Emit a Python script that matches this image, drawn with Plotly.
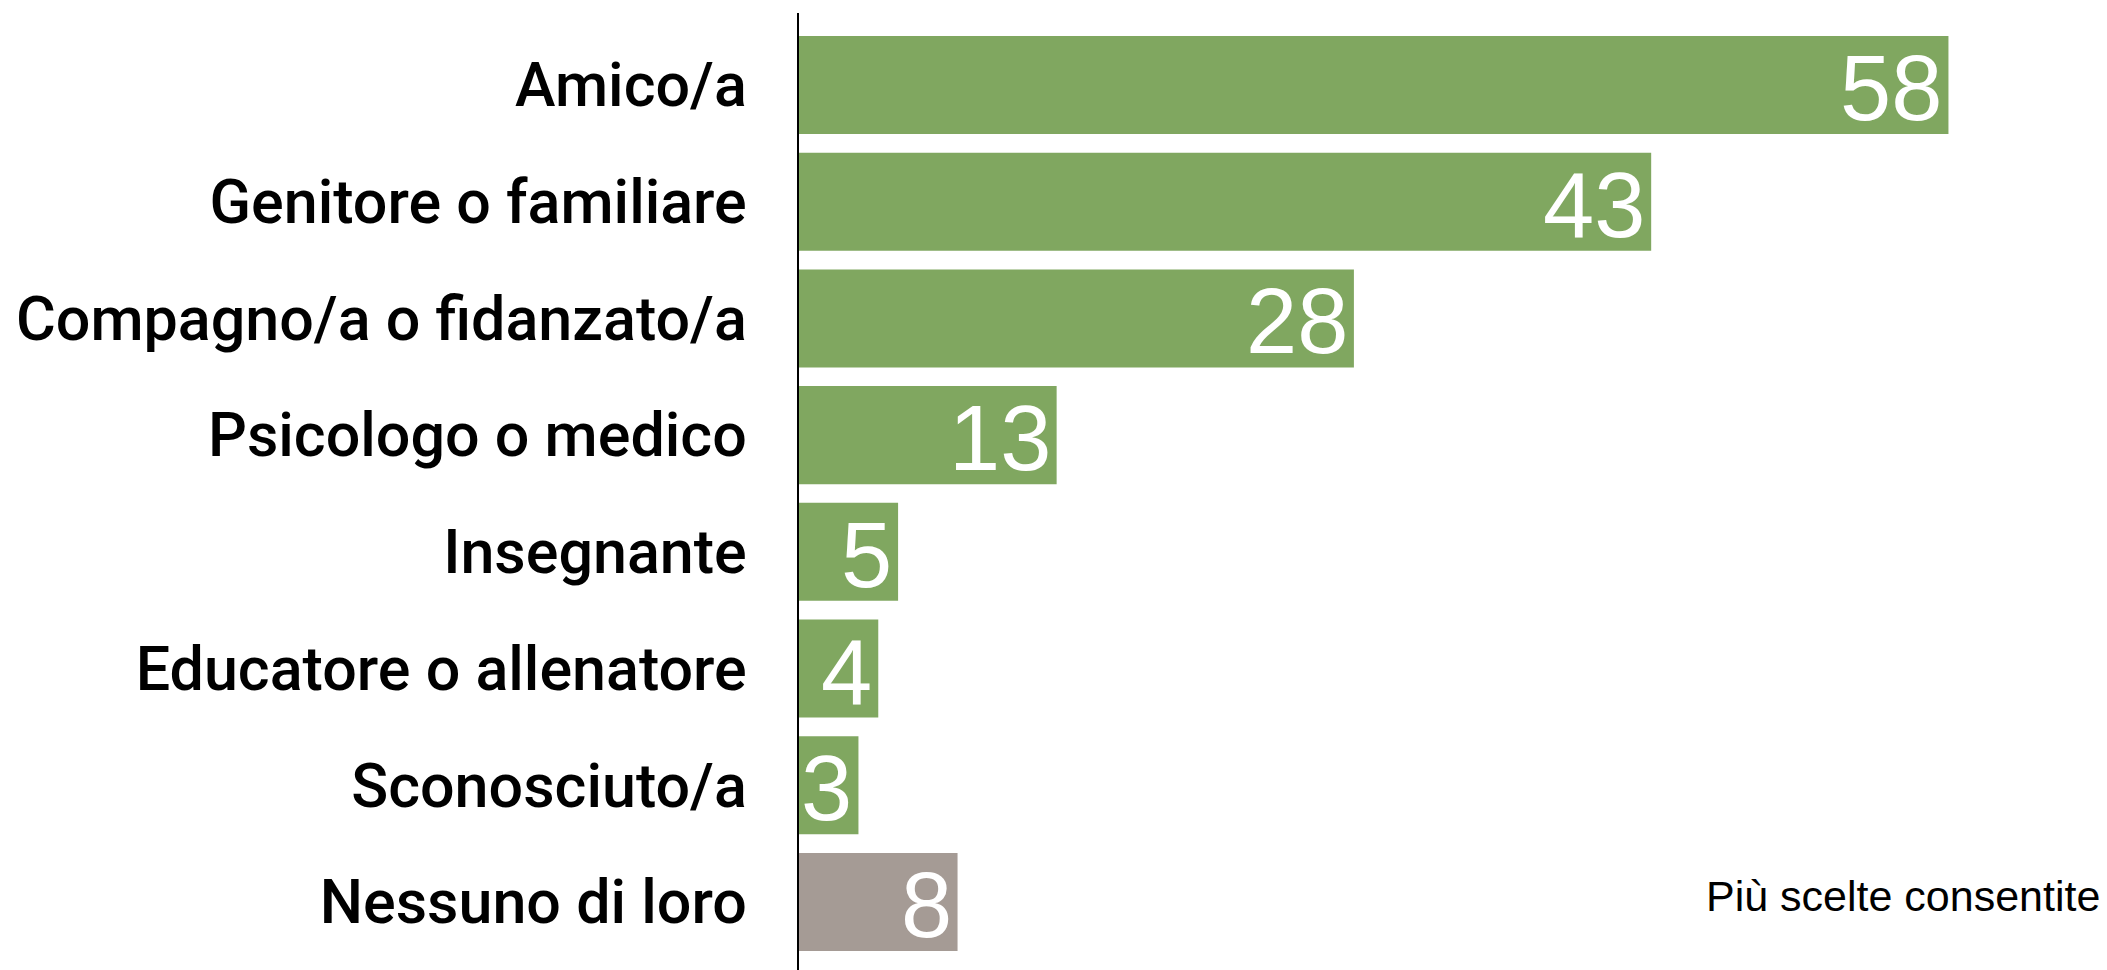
import plotly.graph_objects as go

categories = ["Amico/a", "Genitore o familiare", "Compagno/a o fidanzato/a",
              "Psicologo o medico", "Insegnante", "Educatore o allenatore",
              "Sconosciuto/a", "Nessuno di loro"]
values = [58, 43, 28, 13, 5, 4, 3, 8]
bar_colors = ["#80A760"] * 7 + ["#A59B95"]
note = "Più scelte consentite"

fig = go.Figure()
fig.add_trace(go.Bar(
    x=values, y=categories, orientation="h",
    marker=dict(color=bar_colors, line=dict(width=0)),
    hoverinfo="skip",
))

for c, v in zip(categories, values):
    fig.add_annotation(x=v, y=c, xref="x", yref="y", text=str(v),
                       showarrow=False, xanchor="right", yanchor="middle",
                       xshift=-4, yshift=-3,
                       font=dict(family="Liberation Sans, Arial, sans-serif",
                                 size=92, color="white"))

fig.add_annotation(x=1, y=0.075, xref="paper", yref="paper", text=note,
                   showarrow=False, xanchor="right", yanchor="middle",
                   xshift=-5, yshift=2,
                   font=dict(family="Liberation Sans, Arial, sans-serif",
                             size=43, color="black"))

fig.update_layout(
    width=2099, height=962,
    margin=dict(l=791, r=0, t=5, b=0, pad=0),
    paper_bgcolor="white", plot_bgcolor="white",
    bargap=0.16, showlegend=False,
    xaxis=dict(range=[0, 66.0], visible=False, fixedrange=True,
               automargin=False),
    yaxis=dict(categoryorder="array", categoryarray=categories,
               range=[7.583, -0.617], autorange=False, automargin=False,
               showline=True, linecolor="black", linewidth=2,
               showgrid=False, zeroline=False,
               ticks="outside", ticklen=38, tickcolor="rgba(0,0,0,0)",
               tickfont=dict(family="Roboto, Liberation Sans, sans-serif",
                             size=61, color="black", weight=500)),
)

fig.write_html("out.html")
